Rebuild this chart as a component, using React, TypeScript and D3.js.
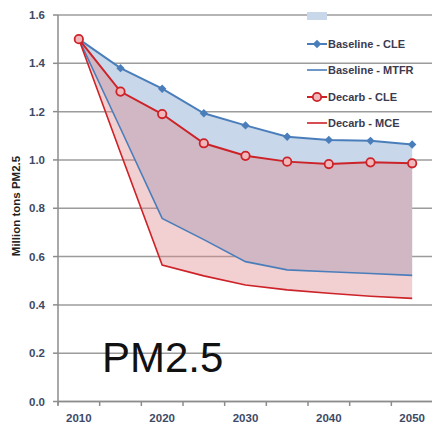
import React from "react";
import * as d3 from "d3";

const years = [2010, 2015, 2020, 2025, 2030, 2035, 2040, 2045, 2050];
const yearLabels = ["2010", "", "2020", "", "2030", "", "2040", "", "2050"];
const baselineCLE = [1.5, 1.38, 1.295, 1.193, 1.143, 1.096, 1.083, 1.079, 1.064];
const baselineMTFR = [1.5, 1.13, 0.758, 0.67, 0.579, 0.545, 0.537, 0.53, 0.522];
const decarbCLE = [1.5, 1.283, 1.19, 1.069, 1.017, 0.993, 0.983, 0.99, 0.986];
const decarbMCE = [1.5, 1.03, 0.565, 0.52, 0.482, 0.462, 0.448, 0.436, 0.427];
const yTicks = [0, 0.2, 0.4, 0.6, 0.8, 1.0, 1.2, 1.4, 1.6];
const legendLabels = ["Baseline - CLE", "Baseline - MTFR", "Decarb - CLE", "Decarb - MCE"];

const BLUE = "#4a7ebb";
const RED = "#cc2228";

export default function App() {
  const W = 432, H = 423;
  const x = d3.scaleBand<number>().domain(years).range([58, 433]).padding(0);
  const cx = (yr: number) => (x(yr) as number) + x.bandwidth() / 2;
  const y = d3.scaleLinear().domain([0, 1.6]).range([401.5, 15]);

  const areaBetween = (top: number[], bot: number[]) =>
    d3.area<number>()
      .x((d, i) => cx(years[i]))
      .y0((d, i) => y(bot[i]))
      .y1((d) => y(d))(top) || "";
  const lineOf = (vals: number[]) =>
    d3.line<number>().x((d, i) => cx(years[i])).y((d) => y(d))(vals) || "";

  const diamond = (px: number, py: number, s = 4.2) =>
    `M${px},${py - s}L${px + s},${py}L${px},${py + s}L${px - s},${py}Z`;

  const bounds = d3.range(years.length + 1).map((i) => 58 + i * x.bandwidth());
  const font = "'Liberation Sans', Arial, sans-serif";
  const legendY = [44, 70, 97, 123];

  return (
    <svg width={W} height={H} style={{ position: "fixed", left: 0, top: 0, background: "#fff" }}>
      {/* gridlines */}
      {yTicks.map((t) => (
        <line key={"g" + t} x1={58} x2={W} y1={y(t)} y2={y(t)} stroke="#9c9c9c" strokeWidth={1.5} />
      ))}
      {/* areas */}
      <path d={areaBetween(baselineCLE, baselineMTFR)} fill="#c8d7ea" />
      <path d={areaBetween(decarbCLE, decarbMCE)} fill="#de8789" fillOpacity={0.4} />
      {/* lines */}
      <path d={lineOf(baselineMTFR)} fill="none" stroke={BLUE} strokeWidth={1.6} />
      <path d={lineOf(decarbMCE)} fill="none" stroke={RED} strokeWidth={1.6} />
      <path d={lineOf(baselineCLE)} fill="none" stroke={BLUE} strokeWidth={2} />
      <path d={lineOf(decarbCLE)} fill="none" stroke={RED} strokeWidth={2} />
      {baselineCLE.map((v, i) => (
        <path key={"bd" + i} d={diamond(cx(years[i]), y(v))} fill={BLUE} />
      ))}
      {decarbCLE.map((v, i) => (
        <circle key={"dc" + i} cx={cx(years[i])} cy={y(v)} r={4.2} fill="#f0b8ba" stroke={RED} strokeWidth={1.8} />
      ))}
      {/* axes */}
      <line x1={58} x2={58} y1={15} y2={405} stroke="#8c8c8c" strokeWidth={1.5} />
      <line x1={58} x2={W} y1={401.5} y2={401.5} stroke="#8c8c8c" strokeWidth={1.5} />
      {yTicks.map((t) => (
        <line key={"yt" + t} x1={53} x2={58} y1={y(t)} y2={y(t)} stroke="#8c8c8c" strokeWidth={1.5} />
      ))}
      {bounds.map((b, i) => (
        <line key={"xt" + i} x1={b} x2={b} y1={401.5} y2={406} stroke="#8c8c8c" strokeWidth={1.5} />
      ))}
      {yTicks.map((t) => (
        <text key={"yl" + t} x={45} y={y(t)} dy="0.35em" textAnchor="end" fontFamily={font} fontWeight="bold" fontSize={11.5} fill="#3d4a66">
          {t.toFixed(1)}
        </text>
      ))}
      {years.map((yr, i) => (
        <text key={"xl" + yr} x={cx(yr)} y={418} dy="0.35em" textAnchor="middle" fontFamily={font} fontWeight="bold" fontSize={11.5} fill="#3d4a66">
          {yearLabels[i]}
        </text>
      ))}
      <text transform="translate(16,206) rotate(-90)" textAnchor="middle" dy="0.35em" fontFamily={font} fontWeight="bold" fontSize={11.5} fill="#222">
        Million tons PM2.5
      </text>
      {/* big label */}
      <text x={102} y={372} fontFamily={font} fontSize={42} fill="#111">PM2.5</text>
      {/* legend */}
      <rect x={307} y={12} width={20} height={8} fill="#c8d7ea" />
      {legendLabels.map((lab, i) => {
        const ly = legendY[i];
        const col = i < 2 ? BLUE : RED;
        return (
          <g key={"lg" + i}>
            <line x1={307} x2={327} y1={ly} y2={ly} stroke={col} strokeWidth={i % 2 === 0 ? 2 : 1.6} />
            {i === 0 && <path d={diamond(317, ly)} fill={BLUE} />}
            {i === 2 && <circle cx={317} cy={ly} r={4.2} fill="#f0b8ba" stroke={RED} strokeWidth={1.8} />}
            <text x={328} y={ly} dy="0.35em" fontFamily={font} fontWeight="bold" fontSize={11} fill="#3a3a50">
              {lab}
            </text>
          </g>
        );
      })}
    </svg>
  );
}
